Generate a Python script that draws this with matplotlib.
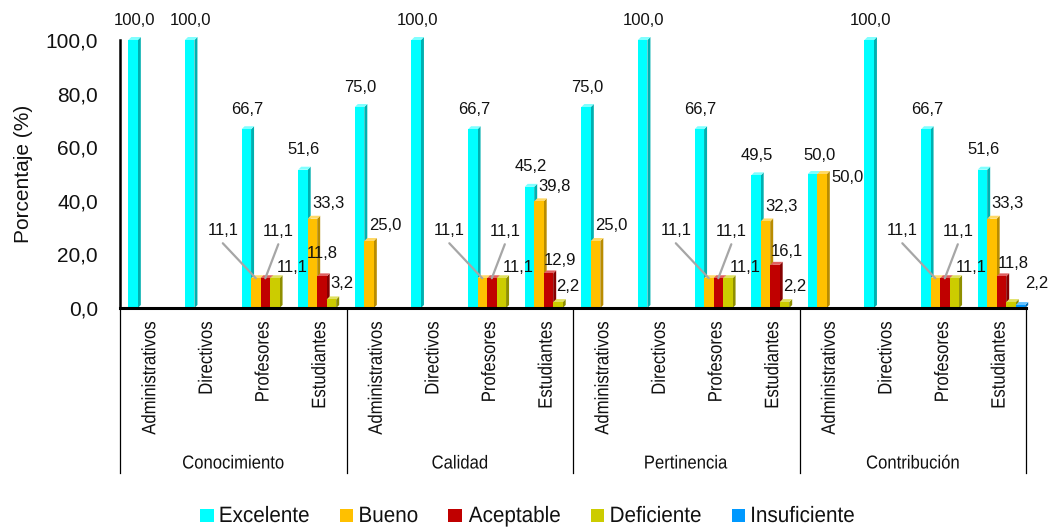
import matplotlib
matplotlib.use("Agg")
import matplotlib.pyplot as plt
from matplotlib import font_manager
from matplotlib.patches import Rectangle, Polygon, PathPatch
from matplotlib.lines import Line2D
from matplotlib.textpath import TextPath
from matplotlib.font_manager import FontProperties
from matplotlib.transforms import Affine2D, IdentityTransform

# ---------------- data ----------------
groups = ["Conocimiento", "Calidad", "Pertinencia", "Contribución"]
subgroups = ["Administrativos", "Directivos", "Profesores", "Estudiantes"]
series = ["Excelente", "Bueno", "Aceptable", "Deficiente", "Insuficiente"]

excelente = [100.0, 100.0, 66.7, 51.6, 75.0, 100.0, 66.7, 45.2, 75.0, 100.0, 66.7, 49.5, 50.0, 100.0, 66.7, 51.6]
bueno = [0, 0, 11.1, 33.3, 25.0, 0, 11.1, 39.8, 25.0, 0, 11.1, 32.3, 50.0, 0, 11.1, 33.3]
aceptable = [0, 0, 11.1, 11.8, 0, 0, 11.1, 12.9, 0, 0, 11.1, 16.1, 0, 0, 11.1, 11.8]
deficiente = [0, 0, 11.1, 3.2, 0, 0, 11.1, 2.2, 0, 0, 11.1, 2.2, 0, 0, 11.1, 2.2]
insuficiente = [0, 0, 0, 0, 0, 0, 0, 0, 0, 0, 0, 0, 0, 0, 0, 1.1]
values = [excelente, bueno, aceptable, deficiente, insuficiente]

yticks = [0, 20, 40, 60, 80, 100]

# ---------------- style ----------------
front = ["#00FFFF", "#FFC000", "#C00000", "#CCCC00", "#0099FF"]
side = ["#00B0B0", "#B98C00", "#850000", "#8F8F00", "#006BB3"]
top = ["#7FFFFF", "#FFD966", "#E06060", "#E0E060", "#66C2FF"]

avail = {f.name for f in font_manager.fontManager.ttflist}
REG = "Liberation Sans" if "Liberation Sans" in avail else "DejaVu Sans"
FP = FontProperties(family=REG)
TXT = "#111111"

W, H = 1051, 529
DPI = 100
fig = plt.figure(figsize=(W / DPI, H / DPI), dpi=DPI)
ax_l, ax_r, ax_t, ax_b = 120, 1026, 40, 308
ax = fig.add_axes([ax_l / W, (H - ax_b) / H, (ax_r - ax_l) / W, (ax_b - ax_t) / H])
ax.set_xlim(0, 16)
ax.set_ylim(0, 100)
pxx = (ax_r - ax_l) / 16.0
pxy = (ax_b - ax_t) / 100.0


def narrow_text(xpix, ypix, s, size, squeeze, rotation=0, ha="center", va="baseline"):
    """Condensed text drawn as a path; xpix/ypix measured from the top-left of the image."""
    tp = TextPath((0, 0), s, size=size * DPI / 72.0, prop=FP)
    p = Affine2D().scale(squeeze, 1).rotate_deg(rotation).transform_path(tp)
    ext = p.get_extents()
    X, Y = xpix, H - ypix
    if ha == "center":
        tx = X - (ext.x0 + ext.x1) / 2
    elif ha == "left":
        tx = X - ext.x0
    else:
        tx = X - ext.x1
    if va == "top":
        ty = Y - ext.y1
    elif va == "center":
        ty = Y - (ext.y0 + ext.y1) / 2
    else:
        ty = Y
    p2 = Affine2D().translate(tx, ty).transform_path(p)
    fig.add_artist(PathPatch(p2, transform=IdentityTransform(), facecolor=TXT, edgecolor="none"))
    return ext.x1 - ext.x0


bw = 9.5 / pxx
start = 20 / pxx
ddx = 3 / pxx
ddy = 3 / pxy

n = len(excelente)
for s in range(len(series)):
    for i in range(n):
        v = values[s][i]
        if v == 0:
            continue
        x0 = i + 0.5 - start + s * bw
        z = 2 + s * 0.01 + i * 0.0001
        ax.add_patch(Polygon([(x0 + bw, 0), (x0 + bw + ddx, ddy), (x0 + bw + ddx, v + ddy), (x0 + bw, v)],
                             closed=True, facecolor=side[s], edgecolor="none", zorder=z, clip_on=False))
        ax.add_patch(Polygon([(x0, v), (x0 + ddx, v + ddy), (x0 + bw + ddx, v + ddy), (x0 + bw, v)],
                             closed=True, facecolor=top[s], edgecolor="none", zorder=z, clip_on=False))
        ax.add_patch(Rectangle((x0, 0), bw, v, facecolor=front[s], edgecolor="none", zorder=z, clip_on=False))

# ---------------- data labels ----------------
PT = 72.0 / DPI  # points per pixel
default_off = {0: (1, 20), 1: (16, 15), 2: (12, 13), 3: (10, 16), 4: (18, 13)}
override = {}
for g in range(4):
    override[(1, g * 4 + 2)] = (-33, 48, True)
    override[(2, g * 4 + 2)] = (13, 47, True)
    override[(3, g * 4 + 2)] = (17, 11, False)
override[(2, 3)] = (0, 23, False)
override[(3, 15)] = (26, 19, False)
override[(0, 12)] = (7, 19, False)
override[(1, 12)] = (25, -3, False)
hidden = {(4, 15)}

for s in range(len(series)):
    for i in range(n):
        v = values[s][i]
        if v == 0 or (s, i) in hidden:
            continue
        xc = i + 0.5 - start + s * bw + bw / 2
        if (s, i) in override:
            dxp, dyp, leader = override[(s, i)]
        else:
            dxp, dyp = default_off[s]
            leader = False
        lab = f"{v:.1f}".replace(".", ",")
        ax.annotate(lab, xy=(xc, v), xytext=(dxp * PT, dyp * PT), textcoords="offset points",
                    ha="center", va="center", fontsize=12, family=REG, color=TXT,
                    annotation_clip=False, zorder=10)
        if leader:
            ax.annotate("", xy=(xc, v), xytext=(dxp * PT, (dyp - 13) * PT), textcoords="offset points",
                        arrowprops=dict(arrowstyle="-", color="#A6A6A6", lw=1.6, shrinkA=0, shrinkB=0),
                        annotation_clip=False, zorder=9)

# ---------------- axes ----------------
for sp in ["top", "right"]:
    ax.spines[sp].set_visible(False)
ax.spines["left"].set_linewidth(1.8)
ax.spines["bottom"].set_linewidth(2.2)
ax.spines["bottom"].set_zorder(20)
ax.set_yticks(yticks)
ax.set_yticklabels([f"{t:.1f}".replace(".", ",") for t in yticks], fontsize=15, family=REG, color=TXT)
ax.tick_params(axis="y", length=0, pad=16)
ax.set_xticks([])
ax.set_ylabel("Porcentaje (%)", fontsize=15, family=REG, color=TXT)
ax.yaxis.set_label_coords(-(ax_l - 33) / (ax_r - ax_l), 0.5)

# category labels (condensed, rotated)
for i in range(n):
    xpix = ax_l + (i + 0.5) * pxx
    narrow_text(xpix, 322, subgroups[i % 4], 14, 0.86, rotation=90, ha="center", va="top")
for g, name in enumerate(groups):
    xpix = ax_l + (g * 4 + 2) * pxx
    narrow_text(xpix, 468.5, name, 13.5, 0.89, ha="center", va="baseline")
for xsep in [0, 4, 8, 12, 16]:
    xpix = ax_l + xsep * pxx
    fig.add_artist(Line2D([xpix / W, xpix / W], [(H - ax_b) / H, (H - 473) / H],
                          transform=fig.transFigure, color="black", lw=0.9))

# ---------------- legend (condensed text, square keys) ----------------
leg_size, leg_sq = 16, 0.93
sq, gap_t, gap_item = 13.5, 7, 31
widths = []
for name in series:
    tp = TextPath((0, 0), name, size=leg_size * DPI / 72.0, prop=FP)
    e = tp.get_extents()
    widths.append((e.x1 - e.x0) * leg_sq)
x = 200
base = 522
for k, name in enumerate(series):
    fig.add_artist(Rectangle((x, H - base), sq, sq, transform=IdentityTransform(),
                             facecolor=front[k], edgecolor="none"))
    narrow_text(x + sq + gap_t, base, name, leg_size, leg_sq, ha="left", va="baseline")
    x += sq + gap_t + widths[k] + gap_item

fig.savefig("out.png", dpi=DPI)
